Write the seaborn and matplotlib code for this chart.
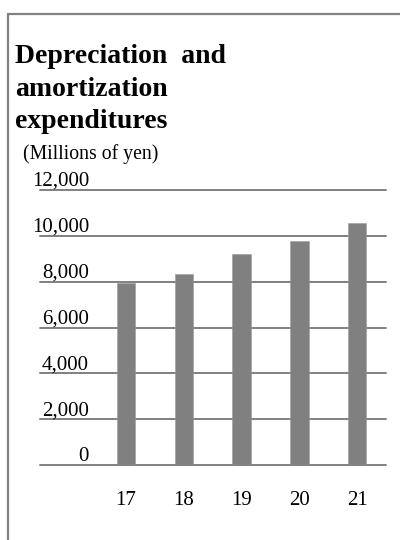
import matplotlib
matplotlib.use("Agg")
import matplotlib.pyplot as plt
import matplotlib.transforms as mtransforms
from matplotlib.lines import Line2D
import seaborn as sns
import pandas as pd

# Fiscal years and depreciation/amortization (millions of yen)
years = ["17", "18", "19", "20", "21"]
values = [7950, 8330, 9190, 9790, 10570]
y_ticks = [0, 2000, 4000, 6000, 8000, 10000, 12000]
y_tick_labels = ["0", "2,000", "4,000", "6,000", "8,000", "10,000", "12,000"]
title_lines = ["Depreciation  and", "amortization", "expenditures"]
unit_label = "(Millions of yen)"

sns.set_theme(style="white")
plt.rcParams["font.family"] = ["Liberation Serif", "DejaVu Serif"]

GRAY = "#808080"
W, H = 400, 540
fig = plt.figure(figsize=(W / 100, H / 100), dpi=100)

def fx(px):
    return px / W

def fy(py):
    return 1 - py / H

ax = fig.add_axes([fx(40), fy(465), fx(386) - fx(40), fy(190) - fy(465)])

df = pd.DataFrame({"year": years, "value": values})
sns.barplot(data=df, x="year", y="value", color=GRAY, saturation=1,
            width=0.32, ax=ax, zorder=3, edgecolor="#9a9a9a", linewidth=0.4)

ax.set_xlim(-1.49, 4.5)
ax.set_ylim(0, 12000)
for s in ax.spines.values():
    s.set_visible(False)
ax.set_xlabel("")
ax.set_ylabel("")
ax.set_yticks(y_ticks)
ax.set_yticklabels([])
ax.tick_params(axis="both", length=0)
ax.tick_params(axis="x", pad=19, labelsize=15, colors="black")

# horizontal gridlines (drawn unclipped so the top one shows fully)
for v in y_ticks:
    ax.axhline(v, color=GRAY, lw=1.4, zorder=1, clip_on=False)

# y labels sit just above their gridlines, inside the plot area
lab_tr = mtransforms.blended_transform_factory(ax.transAxes, ax.transData)
lab_tr = lab_tr + mtransforms.ScaledTranslation(0, 4 / 100, fig.dpi_scale_trans)
for v, t in zip(y_ticks, y_tick_labels):
    ax.text((89 - 40) / 346, v, t, transform=lab_tr, ha="right", va="baseline",
            fontsize=15, color="black")

# title block
baselines = [63, 96.5, 128.5]
for line, b in zip(title_lines, baselines):
    fig.text(fx(15), fy(b), line, fontsize=20, fontweight="bold",
             ha="left", va="baseline", color="black")
fig.text(fx(23), fy(159), unit_label, fontsize=14.2, ha="left", va="baseline",
         color="black")

# outer frame: left and top edges
fig.add_artist(Line2D([fx(7.5), fx(7.5)], [fy(14), 0], transform=fig.transFigure,
                      color=GRAY, lw=1.6))
fig.add_artist(Line2D([fx(7.5), 1], [fy(14), fy(14)], transform=fig.transFigure,
                      color=GRAY, lw=1.6))

fig.savefig("out.png", dpi=100, facecolor="white")
